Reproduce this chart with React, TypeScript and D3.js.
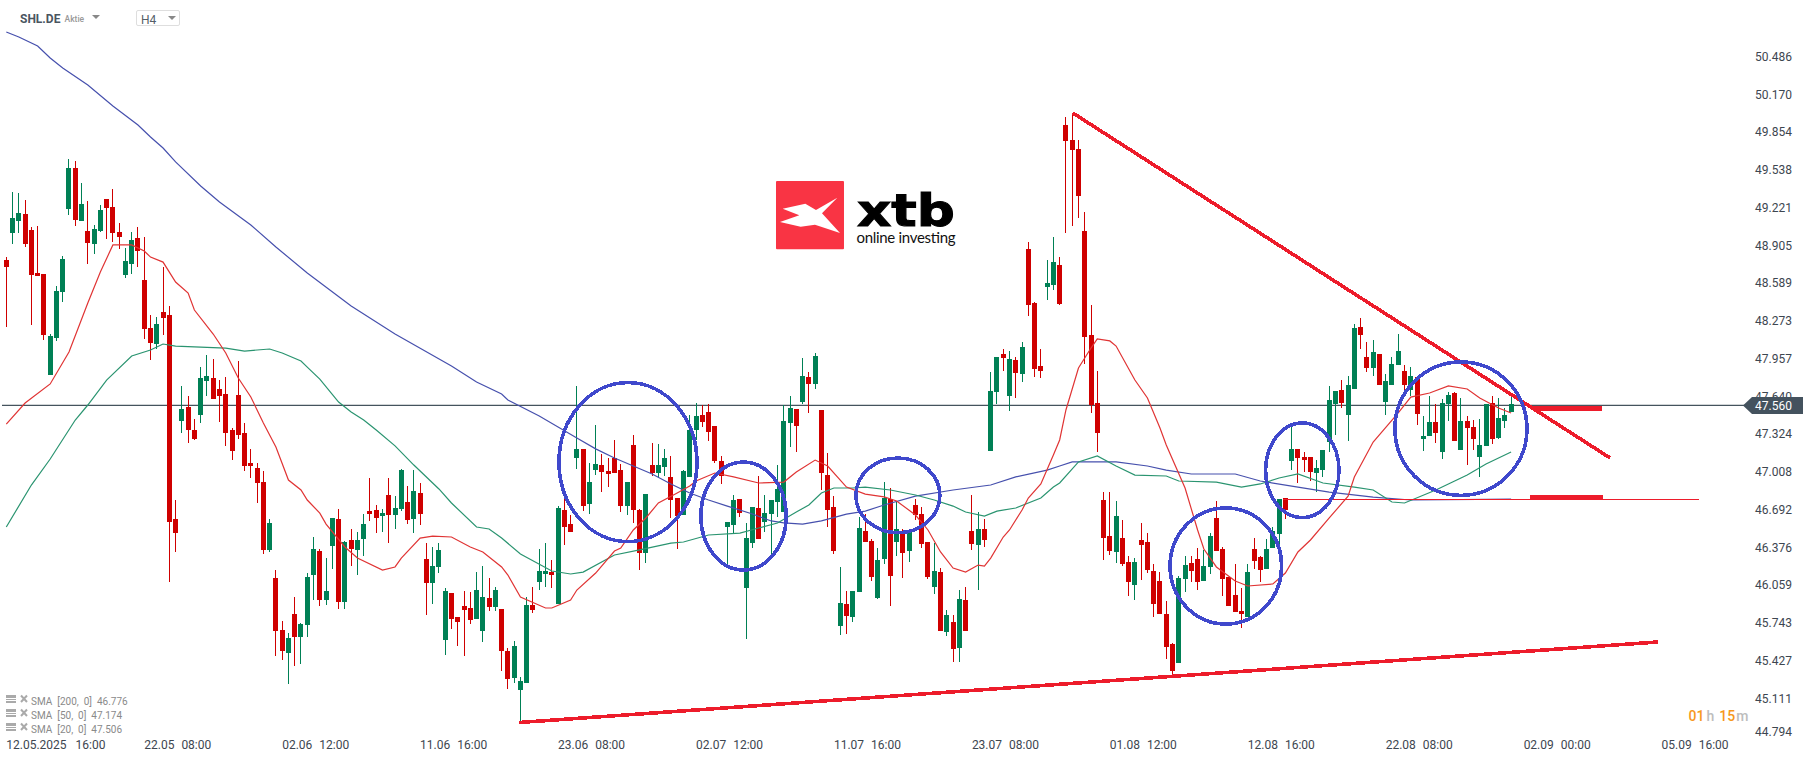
import React, { useEffect, useRef } from "react"
import * as d3 from "d3"

// price data, one entry per candle
const opens = [
  48.782,49.010,49.111,49.169,49.035,48.673,48.664,47.815,48.127,48.513,
  49.211,49.556,49.111,49.026,48.917,49.026,49.295,49.228,49.018,48.656,
  48.749,48.968,48.614,48.211,48.076,48.345,48.320,46.604,47.428,47.546,
  47.353,47.479,47.765,47.790,47.698,47.655,47.353,47.647,47.328,47.075,
  47.033,46.915,46.344,46.108,45.671,45.477,45.805,45.612,45.713,46.133,
  46.335,45.923,46.377,46.604,45.906,46.428,46.344,46.436,46.671,46.680,
  46.629,46.806,46.638,46.688,46.747,46.604,46.823,46.268,46.066,46.201,
  45.587,45.982,45.781,45.873,45.856,45.764,45.663,45.940,45.864,45.847,
  45.494,45.267,45.166,45.225,45.881,46.074,46.142,46.158,45.890,46.680,
  46.562,47.117,47.194,46.730,47.016,47.058,47.008,47.117,47.016,46.713,
  47.227,46.680,46.318,47.058,46.991,47.042,46.958,46.781,46.638,46.958,
  47.353,47.479,47.504,47.386,47.092,46.537,46.554,46.773,46.024,46.402,
  46.697,46.579,46.646,46.747,46.663,47.412,47.529,47.588,47.798,47.739,
  47.521,46.974,46.705,45.705,45.890,45.781,45.990,46.503,46.419,45.940,
  46.268,46.773,46.411,46.503,46.335,46.722,46.646,46.411,46.032,46.158,
  45.654,45.738,45.519,45.923,46.503,46.386,46.520,47.177,47.672,47.992,
  47.639,47.941,47.824,48.875,48.421,47.891,48.555,48.572,48.740,49.918,
  49.792,49.716,49.026,48.152,47.580,46.764,46.461,46.327,46.444,46.243,
  46.049,46.428,46.411,46.167,46.083,45.805,45.553,45.393,46.100,46.234,
  46.268,46.083,46.201,46.613,46.352,46.117,45.965,45.831,45.780,46.352,
  46.285,46.184,46.360,46.478,46.781,47.092,47.194,47.126,47.126,46.991,
  47.016,47.252,47.571,47.689,47.479,47.698,48.219,47.966,47.874,47.992,
  47.588,47.731,47.899,47.849,47.689,47.798,47.277,47.302,47.420,47.168,
  47.571,47.664,47.185,47.428,47.378,47.126,47.218,47.580,47.285,47.428,47.504,
]
const closes = [
  48.723,49.136,49.178,48.917,48.656,48.648,48.152,48.143,48.522,48.791,
  49.556,49.119,49.253,48.926,49.043,49.203,49.220,49.010,48.976,48.774,
  48.951,48.858,48.202,48.085,48.244,48.295,46.579,46.487,47.529,47.353,
  47.277,47.790,47.807,47.613,47.639,47.328,47.177,47.311,47.050,47.050,
  46.907,46.344,46.571,45.663,45.494,45.604,45.612,45.721,46.117,46.352,
  45.923,45.999,46.613,45.906,46.411,46.352,46.428,46.562,46.646,46.613,
  46.654,46.638,46.697,47.016,46.596,46.840,46.646,46.066,46.209,46.344,
  45.999,45.764,45.738,45.839,45.755,46.007,45.948,45.864,46.007,45.494,
  45.259,45.536,45.242,45.881,45.839,46.167,46.167,46.133,46.697,46.537,
  46.495,47.194,46.713,46.915,47.067,47.000,46.983,46.991,46.713,46.915,
  46.680,46.318,46.814,46.991,47.058,47.117,46.764,46.629,47.008,47.353,
  47.470,47.420,47.336,47.092,46.966,46.579,46.764,46.654,46.444,46.705,
  46.436,46.654,46.764,46.856,47.428,47.538,47.386,47.807,47.739,47.975,
  46.991,46.680,46.335,45.898,45.789,45.999,46.529,46.411,46.117,46.259,
  46.781,46.125,46.520,46.318,46.503,46.638,46.394,46.117,46.167,45.663,
  45.797,45.511,45.932,45.663,46.394,46.520,46.428,47.681,47.966,47.958,
  47.950,47.832,48.051,48.404,47.866,47.849,48.589,48.765,48.412,49.783,
  49.708,49.321,48.135,47.563,47.328,46.444,46.335,46.629,46.226,46.074,
  46.243,46.386,46.175,45.890,45.805,45.528,45.326,46.108,46.217,46.167,
  46.074,46.209,46.461,46.335,46.100,45.873,45.822,45.805,46.158,46.251,
  46.175,46.352,46.503,46.773,46.680,47.194,47.117,47.100,47.000,47.033,
  47.185,47.605,47.681,47.580,47.731,48.211,48.152,47.874,48.009,47.731,
  47.765,47.908,48.017,47.731,47.807,47.487,47.302,47.420,47.328,47.580,
  47.647,47.260,47.428,47.370,47.277,47.227,47.571,47.277,47.454,47.479,47.571,
]
const highs = [
  48.807,49.354,49.346,49.287,49.060,49.068,48.664,48.160,48.564,48.816,
  49.632,49.615,49.430,49.279,49.077,49.245,49.295,49.379,49.094,48.884,
  49.018,49.060,48.976,48.320,48.303,48.723,48.396,46.764,47.723,47.639,
  47.445,47.882,47.983,47.950,47.773,47.798,47.370,47.933,47.412,47.194,
  47.075,47.008,46.604,46.175,45.747,45.646,45.948,45.730,46.150,46.453,
  46.352,46.276,46.613,46.688,46.419,46.520,46.495,46.646,46.949,46.722,
  46.688,46.949,46.797,47.025,46.882,47.016,46.907,46.402,46.369,46.402,
  46.024,45.982,45.781,45.999,45.990,46.158,46.209,46.108,46.032,45.847,
  45.519,45.578,45.275,45.948,46.032,46.352,46.402,46.259,46.713,46.781,
  46.638,47.723,47.194,47.075,47.395,47.151,47.117,47.269,47.067,46.915,
  47.311,46.688,46.814,47.244,47.235,47.194,47.134,46.781,47.016,47.479,
  47.580,47.563,47.571,47.386,47.134,46.579,46.806,46.773,46.571,46.705,
  46.966,46.806,46.764,47.058,47.563,47.639,47.529,47.958,47.840,48.000,
  47.521,47.160,46.797,46.201,45.999,45.999,46.621,46.646,46.436,46.360,
  46.915,46.865,46.747,46.520,46.520,46.773,46.705,46.411,46.402,46.192,
  45.839,45.797,46.007,46.032,46.806,46.663,46.604,47.840,47.966,48.034,
  48.017,47.966,48.093,48.934,48.429,48.034,48.782,48.976,48.807,49.985,
  50.019,49.792,49.186,48.404,47.849,46.831,46.831,46.756,46.596,46.293,
  46.276,46.571,46.487,46.226,46.158,45.914,45.561,46.125,46.293,46.293,
  46.360,46.344,46.487,46.756,46.369,46.117,46.226,46.024,46.226,46.444,
  46.293,46.436,46.537,46.773,46.781,47.403,47.194,47.168,47.126,47.100,
  47.185,47.723,47.681,47.773,47.807,48.244,48.295,48.093,48.110,47.992,
  47.824,47.966,48.160,47.899,47.882,47.798,47.470,47.639,47.571,47.613,
  47.672,47.672,47.622,47.470,47.437,47.445,47.571,47.639,47.622,47.538,47.639,
]
const lows = [
  48.219,48.917,49.010,48.892,48.236,48.648,48.110,47.815,48.102,48.429,
  49.161,49.068,49.111,48.749,48.833,49.018,48.959,48.934,48.875,48.631,
  48.664,48.723,48.118,47.941,48.034,48.152,46.074,46.327,47.328,47.244,
  47.269,47.412,47.639,47.613,47.420,47.219,47.100,47.277,47.008,46.949,
  46.739,46.310,46.327,45.452,45.418,45.217,45.368,45.385,45.612,45.923,
  45.873,45.881,46.184,45.847,45.847,46.209,46.133,46.293,46.588,46.487,
  46.495,46.402,46.520,46.671,46.562,46.487,46.554,45.797,45.890,46.150,
  45.460,45.680,45.536,45.452,45.721,45.764,45.570,45.831,45.831,45.326,
  45.175,45.225,44.897,45.225,45.814,46.007,46.032,46.024,45.890,46.386,
  46.495,47.025,46.671,46.646,46.974,46.831,46.873,46.991,46.663,46.638,
  46.571,46.175,46.234,46.966,46.949,46.966,46.613,46.352,46.638,46.958,
  47.269,47.378,47.260,47.075,46.899,46.217,46.487,46.621,45.595,46.360,
  46.436,46.495,46.302,46.621,46.663,47.210,47.168,47.571,47.496,47.698,
  46.848,46.537,46.310,45.629,45.637,45.738,45.990,46.411,46.083,45.932,
  46.226,45.873,46.293,46.108,46.243,46.596,46.360,46.100,45.973,45.663,
  45.620,45.402,45.402,45.663,46.344,46.007,46.369,47.177,47.571,47.849,
  47.512,47.622,47.756,48.311,47.798,47.790,48.446,48.530,48.404,49.010,
  49.068,49.136,47.908,47.496,47.168,46.259,46.302,46.234,46.209,45.957,
  45.923,46.091,46.150,45.780,45.805,45.427,45.284,45.393,45.990,46.074,
  46.007,46.083,46.142,46.335,45.957,45.873,45.822,45.688,45.780,46.184,
  46.074,46.184,46.360,46.344,46.604,47.016,46.907,47.000,46.924,46.831,
  46.958,47.168,47.311,47.538,47.260,47.698,48.034,47.840,47.807,47.731,
  47.479,47.731,47.899,47.664,47.639,47.395,47.177,47.302,47.244,47.109,
  47.428,47.260,47.185,47.058,47.185,46.958,47.218,47.235,47.277,47.370,47.504,
]

// moving averages, read at the bends: candle position and level
const sma20Index = [0,3,7,10,13,15,17,20,22,23,25,27,29,30,33,35,37,39,41,43,45,47,48,50,51,54,56,60,62,63,66,68,71,74,76,79,80,82,86,87,90,91,94,97,98,100,102,104,107,109,110,113,116,120,124,126,129,131,134,137,140,142,145,147,149,151,153,155,156,157,159,160,162,163,165,167,168,169,171,173,174,176,177,180,182,184,185,188,190,191,193,196,198,202,204,206,208,211,214,215,218,222,224,227,230,233,235,238,240]
const sma20Values = [47.403,47.580,47.740,48.009,48.421,48.681,48.909,48.909,48.858,48.807,48.765,48.597,48.505,48.362,48.160,48.000,47.790,47.630,47.412,47.210,46.932,46.848,46.764,46.654,46.562,46.369,46.276,46.175,46.201,46.276,46.444,46.461,46.453,46.369,46.327,46.201,46.133,45.948,45.856,45.856,45.923,46.007,46.150,46.335,46.360,46.512,46.613,46.739,46.823,46.882,46.924,46.991,46.958,46.907,46.915,47.000,47.100,47.050,46.873,46.814,46.790,46.756,46.638,46.512,46.327,46.192,46.158,46.217,46.209,46.276,46.453,46.512,46.680,46.781,46.899,47.143,47.269,47.521,47.874,48.042,48.118,48.102,48.059,47.773,47.622,47.370,47.227,46.865,46.512,46.352,46.201,46.083,46.041,46.058,46.150,46.327,46.428,46.613,46.797,46.958,47.252,47.496,47.630,47.664,47.723,47.698,47.622,47.538,47.496]

const sma50Index = [0,4,7,11,13,16,20,23,25,27,35,38,42,44,47,48,50,53,55,57,59,62,65,69,71,75,77,79,82,87,90,92,97,101,106,108,112,117,120,123,126,128,130,132,135,137,141,145,148,151,153,156,158,161,165,167,168,171,174,177,180,185,187,193,197,200,203,206,210,215,218,221,223,228,233,236,240]
const sma50Values = [46.537,46.890,47.109,47.437,47.563,47.773,47.975,48.026,48.076,48.059,48.042,48.017,48.034,48.000,47.933,47.882,47.781,47.588,47.504,47.437,47.353,47.219,47.058,46.857,46.739,46.537,46.520,46.444,46.310,46.167,46.142,46.158,46.302,46.344,46.402,46.411,46.470,46.486,46.529,46.571,46.663,46.722,46.823,46.865,46.865,46.873,46.848,46.806,46.764,46.713,46.663,46.629,46.671,46.697,46.781,46.873,46.907,47.084,47.134,47.050,46.974,46.966,46.924,46.915,46.873,46.899,46.949,46.983,46.907,46.873,46.848,46.747,46.739,46.848,46.974,47.067,47.168]

const sma200Index = [0,2,5,7,9,13,17,21,23,25,27,31,34,39,43,48,55,62,71,75,79,80,85,88,91,94,97,100,103,106,109,112,115,119,122,124,127,130,134,137,140,145,151,157,161,166,168,170,177,182,185,189,196,200,206,211,218,224,240]
const sma200Values = [50.700,50.658,50.582,50.481,50.397,50.254,50.078,49.918,49.817,49.724,49.607,49.405,49.270,49.077,48.892,48.673,48.396,48.160,47.891,47.756,47.655,47.605,47.470,47.378,47.285,47.194,47.117,47.050,46.983,46.899,46.823,46.764,46.713,46.646,46.588,46.571,46.562,46.588,46.646,46.671,46.722,46.797,46.848,46.890,46.958,47.016,47.050,47.084,47.084,47.050,47.016,46.983,46.983,46.924,46.873,46.831,46.789,46.764,46.772]

// drawn tools on the chart
const circleIndex = [99.15,117.58,142.2,194.5,206.7,232.0]
const circlePrice = [47.083,46.629,46.803,46.209,47.014,47.364]
const circleRadiusCandles = [11.0,6.81,6.7,8.9,5.85,10.53]
const circleRadiusPrice = [0.669,0.454,0.314,0.488,0.398,0.561]

const lastPrice = 47.56
const priceTicks = [50.486,50.17,49.854,49.538,49.221,48.905,48.589,48.273,47.957,47.64,47.324,47.008,46.692,46.376,46.059,45.743,45.427,45.111,44.794]
const timeLabelDates = ["12.05.2025","22.05","02.06","11.06","23.06","02.07","11.07","23.07","01.08","12.08","22.08","02.09","05.09"]
const timeLabelHours = ["16:00","08:00","12:00","16:00","08:00","12:00","16:00","08:00","12:00","16:00","08:00","00:00","16:00"]
const legendRows = ["SMA  [200,  0]  46.776","SMA  [50,  0]  47.174","SMA  [20,  0]  47.506"]

const RED = "#cf0000"
const GREEN = "#008055"
const TOOL_RED = "#ed1c2b"
const FONT = "Roboto, sans-serif"

const App = () => {
  const chart = useRef<SVGSVGElement>(null)

  useEffect(() => {
    const svg = d3.select(chart.current)
    svg.selectAll("*").remove()

    const x = d3.scaleLinear().domain([0, 240]).range([6.3, 1511.1])
    const y = d3.scaleLinear().domain([50.969, 44.914]).range([0, 720])
    // the axis labels sit on a slightly wider grid than the candles
    const tickY = d3.scaleLinear().domain([50.486, 45.111]).range([56.7, 698.3])
    const snap = (i: number) => Math.floor(x(i))

    // logo
    const logo = svg.append("g").attr("transform", "translate(760,160) scale(0.3333)")
    logo.append("rect").attr("x", 48).attr("y", 63).attr("width", 204).attr("height", 205).attr("rx", 3).attr("fill", "#f93444")
    logo.append("path")
      .attr("d", "M68,146 L136,131 L168,150 L232,113 L186,160 L240,219 L165,194 L122,200 L60,186 L118,166 Z")
      .attr("fill", "#fff")
    svg.append("text").text("xtb")
      .attr("x", 857).attr("y", 225.5)
      .attr("font-family", "'DejaVu Sans'").attr("font-weight", 700).attr("font-size", 44)
      .attr("textLength", 98).attr("lengthAdjust", "spacingAndGlyphs")
      .attr("fill", "#000").attr("stroke", "#000").attr("stroke-width", 1)
    svg.append("text").text("online investing")
      .attr("x", 856.5).attr("y", 242.5)
      .attr("font-family", "Lato, sans-serif").attr("font-size", 15).attr("font-weight", 400)
      .attr("textLength", 99).attr("fill", "#111")

    // current price line, under the candles
    svg.append("line")
      .attr("x1", 2).attr("x2", 1745)
      .attr("y1", y(lastPrice)).attr("y2", y(lastPrice))
      .attr("stroke", "#45535e").attr("stroke-width", 1.3)

    // candles
    const candles = svg.append("g").attr("shape-rendering", "crispEdges")
      .selectAll("g").data(d3.range(opens.length)).enter().append("g")
      .attr("fill", (i) => (closes[i] >= opens[i] ? GREEN : RED))
    candles.append("rect")
      .attr("x", (i) => snap(i))
      .attr("width", 1)
      .attr("y", (i) => Math.round(y(highs[i])))
      .attr("height", (i) => Math.max(1, Math.round(y(lows[i])) - Math.round(y(highs[i]))))
    candles.append("rect")
      .attr("x", (i) => snap(i) - 2)
      .attr("width", 5)
      .attr("y", (i) => Math.round(y(Math.max(opens[i], closes[i]))))
      .attr("height", (i) => Math.max(1, Math.round(y(Math.min(opens[i], closes[i]))) - Math.round(y(Math.max(opens[i], closes[i])))))

    // moving averages
    const line = d3.line<number>().x((d) => x(d))
    const drawAverage = (idx: number[], values: number[], color: string) => {
      svg.append("path")
        .datum(idx)
        .attr("d", line.y((_, k) => y(values[k]))(idx))
        .attr("fill", "none").attr("stroke", color).attr("stroke-width", 1.2)
    }
    drawAverage(sma200Index, sma200Values, "#4650ad")
    drawAverage(sma50Index, sma50Values, "#2a9470")
    drawAverage(sma20Index, sma20Values, "#e03434")

    // drawn tools
    const tools = svg.append("g").attr("shape-rendering", "crispEdges")
    const toolLine = (i1: number, p1: number, i2: number, p2: number, w: number) => {
      tools.append("line")
        .attr("x1", x(i1)).attr("y1", y(p1)).attr("x2", x(i2)).attr("y2", y(p2))
        .attr("stroke", TOOL_RED).attr("stroke-width", w)
    }
    toolLine(203.6, 46.77, 270, 46.77, 1)
    toolLine(170.1, 50.019, 255.8, 47.117, 3.6)
    toolLine(81.8, 44.893, 263.4, 45.57, 3.6)
    toolLine(243.5, 47.535, 254.5, 47.535, 5)
    toolLine(243, 46.789, 254.7, 46.789, 5)
    tools.selectAll("ellipse").data(circleIndex).enter().append("ellipse")
      .attr("cx", (d) => x(d))
      .attr("cy", (_, k) => y(circlePrice[k]))
      .attr("rx", (_, k) => x(circleRadiusCandles[k]) - x(0))
      .attr("ry", (_, k) => y(0) - y(circleRadiusPrice[k]))
      .attr("fill", "none").attr("stroke", "#3f48cc").attr("stroke-width", 3.6)

    // price axis
    svg.append("g").selectAll("text").data(priceTicks).enter().append("text")
      .attr("x", 1755)
      .attr("y", (d) => Math.min(tickY(d), 731.7))
      .attr("dy", "0.35em")
      .attr("font-family", FONT).attr("font-size", 12).attr("fill", "#3d4650")
      .text((d) => d.toFixed(3))
    svg.append("path")
      .attr("d", "M1743,405.5 L1752,397 L1803,397 L1803,414 L1752,414 Z")
      .attr("fill", "#44525e")
    svg.append("text").text(lastPrice.toFixed(3))
      .attr("x", 1755).attr("y", 406).attr("dy", "0.35em")
      .attr("font-family", FONT).attr("font-size", 12).attr("fill", "#fff")

    // time axis, one label every 22 candles
    const timeAxis = svg.append("g").selectAll("text").data(timeLabelDates).enter().append("text")
      .attr("x", (_, k) => x(k * 22))
      .attr("y", 749)
      .attr("font-family", FONT).attr("font-size", 12).attr("fill", "#3d4650")
    timeAxis.append("tspan").text((d) => d)
    timeAxis.append("tspan").attr("dx", (_, k) => (k === 0 ? 9 : 7)).text((_, k) => timeLabelHours[k])

    // legend
    const legend = svg.append("g").selectAll("g").data(legendRows).enter().append("g")
      .attr("transform", (_, k) => `translate(0,${k * 14})`)
    legend.append("text").attr("x", 31).attr("y", 705)
      .attr("xml:space", "preserve").style("white-space", "pre")
      .attr("font-family", FONT).attr("font-size", 10).attr("fill", "#8a8a8a")
      .text((d) => d)
    legend.append("path").attr("d", "M6,695 h10 v3 h-10 Z M6,699 h10 v1 h-10 Z M6,701 h10 v2 h-10 Z").attr("fill", "#aaa")
    legend.append("path").attr("d", "M21,695.5 L27,702 M27,695.5 L21,702").attr("stroke", "#aaa").attr("stroke-width", 2)

    // header
    svg.append("text").text("SHL.DE").attr("x", 20).attr("y", 23)
      .attr("font-family", FONT).attr("font-weight", 700).attr("font-size", 12).attr("fill", "#4a5560")
    svg.append("text").text("Aktie").attr("x", 64.5).attr("y", 22)
      .attr("font-family", FONT).attr("font-weight", 500).attr("font-size", 8.5).attr("fill", "#999")
    svg.append("path").attr("d", "M92,15 h8 l-4,4 Z").attr("fill", "#888")
    svg.append("rect").attr("x", 136.5).attr("y", 10.5).attr("width", 43).attr("height", 15).attr("rx", 1.5)
      .attr("fill", "#fff").attr("stroke", "#dedede")
    svg.append("text").text("H4").attr("x", 141).attr("y", 24)
      .attr("font-family", FONT).attr("font-size", 12).attr("fill", "#555f68")
    svg.append("path").attr("d", "M168,16 h8 l-4,4 Z").attr("fill", "#888")

    // countdown
    const clock = svg.append("text").attr("x", 1688.5).attr("y", 721)
      .attr("font-family", FONT).attr("font-size", 14).attr("font-weight", 500)
    clock.append("tspan").text("01").attr("fill", "#f7981d")
    clock.append("tspan").text("h").attr("fill", "#bdbdbd").attr("dx", 2)
    clock.append("tspan").text("15").attr("fill", "#f7981d").attr("dx", 5)
    clock.append("tspan").text("m").attr("fill", "#bdbdbd").attr("dx", 1)
  }, [])

  return (
    <svg
      ref={chart}
      width={1815}
      height={761}
      style={{ position: "absolute", left: 0, top: 0, display: "block", background: "#fff" }}
    />
  )
}

export default App
